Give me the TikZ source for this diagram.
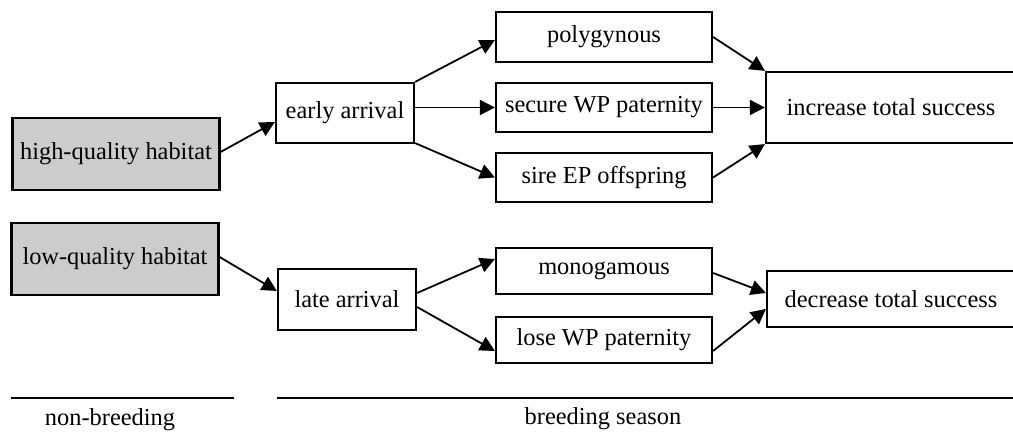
\documentclass[tikz,border=0pt]{standalone}
\usepackage{fontspec}
\setmainfont{Liberation Serif}
\usetikzlibrary{arrows.meta,calc}
\definecolor{habgray}{HTML}{CCCCCC}
\tikzset{
  box/.style={draw=black,line width=1.1pt,inner sep=0pt,align=center,font=\fontsize{12.2}{14}\selectfont},
  habbox/.style={box,fill=habgray},
  arr/.style={line width=0.9pt,-{Triangle[length=7.5pt,width=7.5pt]}},
  rule/.style={line width=0.9pt},
  lbl/.style={inner sep=0pt,font=\fontsize{12.2}{14}\selectfont}
}
\begin{document}
\begin{tikzpicture}[x=0.5pt,y=-0.5pt]
\useasboundingbox (0,0) rectangle (1013,432);
% habitats
\node[habbox,minimum width=207*0.5pt,minimum height=72*0.5pt] (hq) at (116,154) {high-quality habitat};
\node[habbox,minimum width=207*0.5pt,minimum height=72*0.5pt] (lq) at (115,259) {low-quality habitat};
% arrival
\node[box,minimum width=138*0.5pt,minimum height=60*0.5pt] (early) at (345,113) {early arrival};
\node[box,minimum width=138*0.5pt,minimum height=61*0.5pt] (late) at (347,299.5) {late arrival};
% middle column
\node[box,minimum width=216*0.5pt,minimum height=50*0.5pt] (poly) at (604,37) {polygynous};
\node[box,minimum width=216*0.5pt,minimum height=49*0.5pt] (secure) at (604,107.5) {secure WP paternity};
\node[box,minimum width=216*0.5pt,minimum height=49*0.5pt] (sire) at (604,177.5) {sire EP offspring};
\node[box,minimum width=216*0.5pt,minimum height=46*0.5pt] (mono) at (604,271) {monogamous};
\node[box,minimum width=216*0.5pt,minimum height=46*0.5pt] (lose) at (604,340) {lose WP paternity};
% outcomes
\node[box,minimum width=250*0.5pt,minimum height=71*0.5pt] (inc) at (891,107.5) {increase total success};
\node[box,minimum width=248*0.5pt,minimum height=56*0.5pt] (dec) at (891,299) {decrease total success};
% arrows
\draw[arr] ($(hq.east)+(0,-2)$) -- ($(early.west)+(0,9)$);
\draw[arr] (early.north east) -- ($(poly.west)+(0,3)$);
\draw[arr] (early.east|-secure.west) -- (secure.west);
\draw[arr] ($(early.south east)+(0,-1)$) -- (sire.west);
\draw[arr] (poly.east) -- (inc.north west);
\draw[arr] (secure.east) -- (inc.west|-secure.east);
\draw[arr] (sire.east) -- (inc.south west);
\draw[arr] ($(lq.east)+(0,-2)$) -- ($(late.west)+(0,-8.5)$);
\draw[arr] ($(late.east)+(0,-6.5)$) -- ($(mono.west)+(0,-12)$);
\draw[arr] ($(late.east)+(0,7.5)$) -- ($(lose.west)+(0,11)$);
\draw[arr] ($(mono.east)+(0,2)$) -- ($(dec.west)+(0,-6)$);
\draw[arr] ($(lose.east)+(0,11)$) -- ($(dec.west)+(0,10)$);
% season rules
\coordinate (nbL) at (11,398);
\coordinate (nbR) at (234,398);
\coordinate (bsL) at (277,398);
\coordinate (bsR) at (1013,398);
\draw[rule] (nbL) -- (nbR);
\draw[rule] (bsL) -- (bsR);
\node[lbl] (nb) at (110,420) {non-breeding};
\node[lbl] (bs) at (603,419) {breeding season};
\end{tikzpicture}
\end{document}
